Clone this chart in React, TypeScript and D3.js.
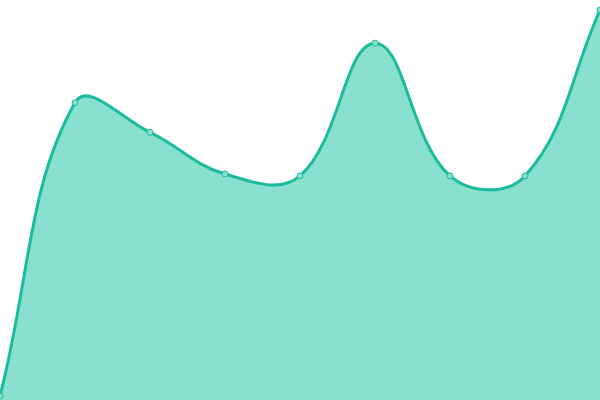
import React, { useEffect, useRef } from 'react'
import * as d3 from 'd3'

const labels = ['1', '2', '3', '4', '5', '6', '7', '8', '9']
const values = [0, 76, 68.3, 57.5, 57, 91.4, 57, 57, 100]

const TENSION = 0.4

// spline with distance-weighted control points (like a chart.js line with tension)
function splinePath(pts: [number, number][], path: d3.Path, moveFirst: boolean) {
  const n = pts.length
  const cps = pts.map((p, i) => {
    const prev = pts[Math.max(0, i - 1)]
    const next = pts[Math.min(n - 1, i + 1)]
    const d01 = Math.hypot(p[0] - prev[0], p[1] - prev[1])
    const d12 = Math.hypot(next[0] - p[0], next[1] - p[1])
    let fa = d01 / (d01 + d12)
    let fb = d12 / (d01 + d12)
    if (isNaN(fa)) fa = 0
    if (isNaN(fb)) fb = 0
    fa *= TENSION
    fb *= TENSION
    return {
      prev: [p[0] - fa * (next[0] - prev[0]), p[1] - fa * (next[1] - prev[1])],
      next: [p[0] + fb * (next[0] - prev[0]), p[1] + fb * (next[1] - prev[1])],
    }
  })
  if (moveFirst) path.moveTo(pts[0][0], pts[0][1])
  else path.lineTo(pts[0][0], pts[0][1])
  for (let i = 1; i < n; i++) {
    const a = cps[i - 1].next
    const b = cps[i].prev
    path.bezierCurveTo(a[0], a[1], b[0], b[1], pts[i][0], pts[i][1])
  }
}

const App: React.FC = () => {
  const svgRef = useRef<SVGSVGElement | null>(null)

  useEffect(() => {
    if (!svgRef.current) return
    document.body.style.margin = '0'

    const width = 600
    const height = 400
    const svg = d3.select(svgRef.current)
    svg.selectAll('*').remove()
    svg.attr('width', width).attr('height', height).attr('viewBox', [0, 0, width, height])

    const x = d3.scalePoint<string>().domain(labels).range([0, width])
    const y = d3.scaleLinear().domain([0, 100]).range([396, 10])

    const pts: [number, number][] = labels.map((l, i) => [x(l)!, y(values[i])])

    const areaPath = d3.path()
    areaPath.moveTo(pts[0][0], height)
    splinePath(pts, areaPath, false)
    areaPath.lineTo(pts[pts.length - 1][0], height)
    areaPath.closePath()

    const linePath = d3.path()
    splinePath(pts, linePath, true)

    svg.append('path').attr('d', areaPath.toString()).attr('fill', '#8ae0cf')

    svg
      .append('path')
      .attr('d', linePath.toString())
      .attr('fill', 'none')
      .attr('stroke', '#1abc9c')
      .attr('stroke-width', 3)

    svg
      .append('g')
      .selectAll('circle')
      .data(pts)
      .join('circle')
      .attr('cx', d => d[0])
      .attr('cy', d => d[1])
      .attr('r', 3)
      .attr('fill', '#8ae0cf')
      .attr('stroke', '#1abc9c')
      .attr('stroke-width', 1)
  }, [])

  return <svg ref={svgRef} style={{ display: 'block' }}></svg>
}

export default App
